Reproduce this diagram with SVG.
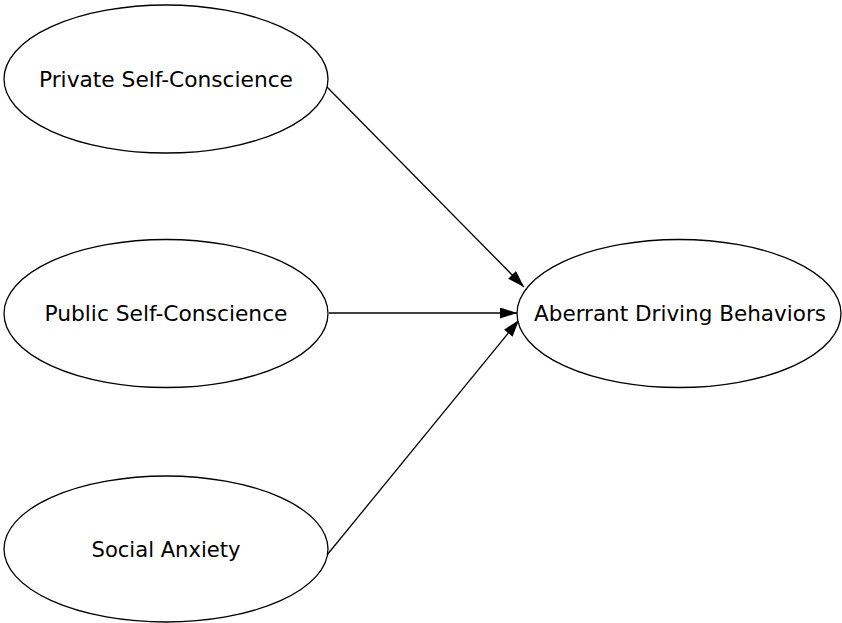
<svg xmlns="http://www.w3.org/2000/svg" width="842" height="623" viewBox="0 0 842 623">
<defs>
<style>
.node ellipse{fill:#fff;stroke:#000;stroke-width:1.3}
.node text{font-family:"DejaVu Sans Condensed","DejaVu Sans",Tahoma,sans-serif;font-size:21px;fill:#000;text-anchor:middle}
.edge{stroke:#000;stroke-width:1.3;fill:none}
</style>
<marker id="ah" markerUnits="userSpaceOnUse" markerWidth="18" markerHeight="12" refX="17" refY="5.5" orient="auto"><path d="M0,0 L17,5.5 L0,11 z" fill="#000"/></marker>
</defs>
<rect width="842" height="623" fill="#fff"/>
<g id="connectors">
<line class="edge" x1="326" y1="86" x2="524" y2="287" marker-end="url(#ah)"/>
<line class="edge" x1="329" y1="313" x2="517" y2="313" marker-end="url(#ah)"/>
<line class="edge" x1="327" y1="555" x2="519" y2="320" marker-end="url(#ah)"/>
</g>
<g id="private" class="node"><ellipse cx="166" cy="79" rx="162" ry="74"/><text x="166" y="87" textLength="254" lengthAdjust="spacingAndGlyphs">Private Self-Conscience</text></g>
<g id="public" class="node"><ellipse cx="166" cy="313.5" rx="162" ry="74"/><text x="166" y="321" textLength="243" lengthAdjust="spacingAndGlyphs">Public Self-Conscience</text></g>
<g id="social" class="node"><ellipse cx="166" cy="549" rx="162" ry="73"/><text x="166" y="557" textLength="149" lengthAdjust="spacingAndGlyphs">Social Anxiety</text></g>
<g id="aberrant" class="node"><ellipse cx="679" cy="313.5" rx="162" ry="74"/><text x="680" y="321" textLength="292" lengthAdjust="spacingAndGlyphs">Aberrant Driving Behaviors</text></g>
</svg>
